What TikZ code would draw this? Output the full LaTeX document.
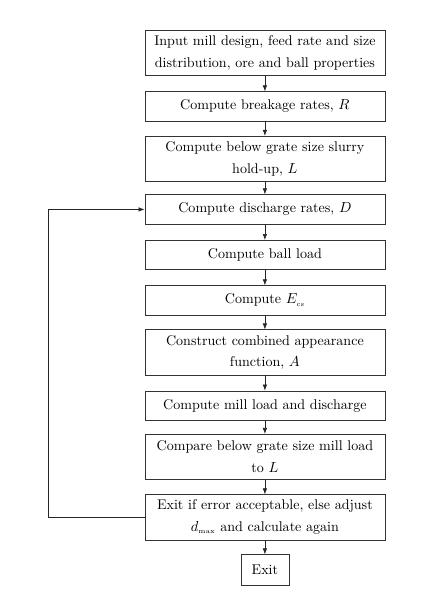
\documentclass[tikz,border=0pt]{standalone}
\usepackage{amsmath,amssymb}
\usepackage{tikz}
\usetikzlibrary{arrows.meta,positioning,calc}
\tikzset{
  stepbox/.style = {rectangle, draw=black!80, line width=0.5pt, minimum width=6.36cm, align=center, inner sep=2pt, fill=white},
  onebox/.style = {stepbox, minimum height=0.78cm},
  twobox/.style = {stepbox, minimum height=1.20cm},
  flow/.style = {-{Latex[length=1.6mm,width=1.2mm]}, line width=0.5pt, black!85},
}

\begin{document}
\begin{tikzpicture}[x=1cm,y=1cm,font=\fontsize{10.6}{16.4}\selectfont]
  \useasboundingbox (0,0) rectangle (11.5,15.9);

  \node[twobox] (input) at (7.02, 14.50) {Input mill design, feed rate and size\\distribution, ore and ball properties};
  \node[onebox] (breakage) at (7.02, 13.08) {Compute breakage rates, $R$};
  \node[twobox] (holdup) at (7.02, 11.69) {Compute below grate size slurry\\hold-up, $L$};
  \node[onebox] (discharge) at (7.02, 10.35) {Compute discharge rates, $D$};
  \node[onebox] (ballload) at (7.02, 9.14) {Compute ball load};
  \node[onebox] (ecs) at (7.02, 7.94) {Compute $E_{\scriptscriptstyle\mathrm{cs}}$};
  \node[twobox] (appear) at (7.02, 6.56) {Construct combined appearance\\function, $A$};
  \node[onebox] (millload) at (7.02, 5.15) {Compute mill load and discharge};
  \node[twobox] (compare) at (7.02, 3.79) {Compare below grate size mill load\\to $L$};
  \node[twobox] (check) at (7.02, 2.19) {Exit if error acceptable, else adjust\\$d_{\scriptscriptstyle\mathrm{max}}$ and calculate again};
  \node[rectangle, draw=black!80, line width=0.5pt, minimum width=1.27cm, minimum height=0.80cm] (exit) at (7.02, 0.80) {Exit};

  \foreach \a/\b in {input/breakage, breakage/holdup, holdup/discharge, discharge/ballload, ballload/ecs, ecs/appear, appear/millload, millload/compare, compare/check, check/exit}{
    \draw[flow] (\a.south) -- (\b.north);
  }

  % return loop
  \coordinate (loopleft) at (1.27, 0);
  \draw[flow] (check.west) -- (check.west -| loopleft) |- (discharge.west);
\end{tikzpicture}
\end{document}
